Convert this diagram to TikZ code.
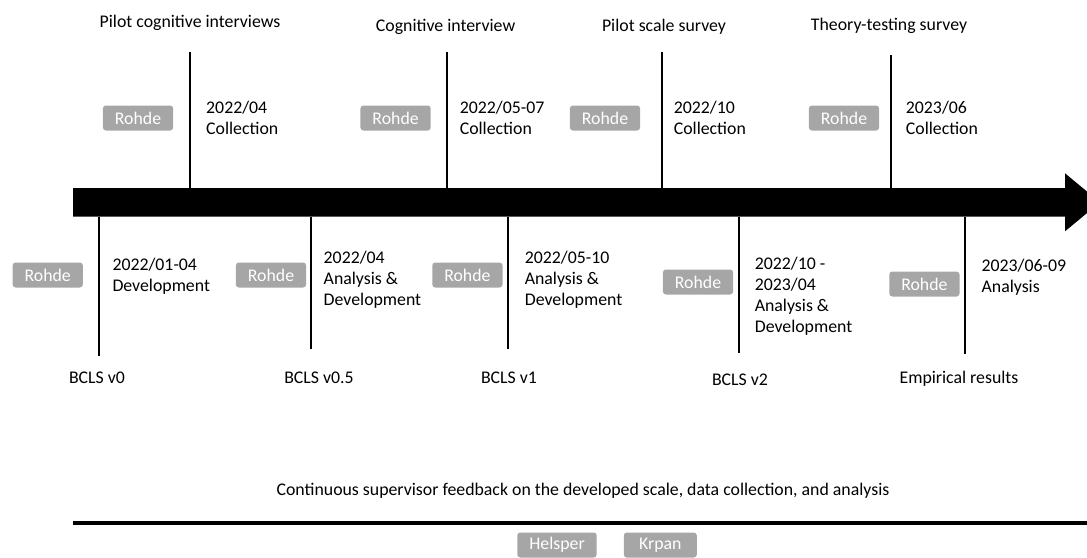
\documentclass[tikz,border=0pt]{standalone}
\usepackage{fontspec}
\setmainfont{Carlito}
\definecolor{tagGray}{HTML}{A6A6A6}
\newcommand{\txtstack}[1]{\begin{tabular}[t]{@{}l@{}}#1\end{tabular}}
\begin{document}
\begin{tikzpicture}[x=1pt,y=-1pt,
  every node/.style={inner sep=0pt, font=\fontsize{17.8}{21}\selectfont},
  tag/.style={fill=tagGray, rounded corners=3pt, text=white,
    minimum height=25pt, inner xsep=12pt},
  tick/.style={line width=2pt},
  date/.style={anchor=base west},
  milestone/.style={anchor=base}]
\useasboundingbox (0,0) rectangle (1087,557);
\clip (0,0) rectangle (1087,557);

% main timeline arrow
\fill[black] (73,188) -- (1065,188) -- (1065,173.3) -- (1100,202.3)
  -- (1065,231.3) -- (1065,216.5) -- (73,216.5) -- cycle;
\coordinate (barTop) at (0,188);
\coordinate (barBot) at (0,216.5);

% collection phases above the timeline
\node[milestone] (p1) at (190,27) {Pilot cognitive interviews};
\node[milestone] (p2) at (445.6,31) {Cognitive interview};
\node[milestone] (p3) at (664,31) {Pilot scale survey};
\node[milestone] (p4) at (889,30) {Theory-testing survey};

\coordinate (u1) at (190,52);
\coordinate (u2) at (446.5,52);
\coordinate (u3) at (662,52);
\coordinate (u4) at (890.5,55);
\foreach \c in {u1,u2,u3,u4} \draw[tick] (\c) -- (\c |- barTop);

\node[tag] (r1) at (138,118) {Rohde};
\node[tag] (r2) at (395.6,118) {Rohde};
\node[tag] (r3) at (605,118) {Rohde};
\node[tag] (r4) at (844,118) {Rohde};

\node[date] (d1) at (206,113.3) {\txtstack{2022/04\\Collection}};
\node[date] (d2) at (459.6,113.3) {\txtstack{2022/05-07\\Collection}};
\node[date] (d3) at (673.6,113.3) {\txtstack{2022/10\\Collection}};
\node[date] (d4) at (905.7,113.3) {\txtstack{2023/06\\Collection}};

% development phases below the timeline
\coordinate (l1) at (99,356);
\coordinate (l2) at (310.5,349);
\coordinate (l3) at (508,349);
\coordinate (l4) at (739,353);
\coordinate (l5) at (965,354);
\foreach \c in {l1,l2,l3,l4,l5} \draw[tick] (\c |- barBot) -- (\c);

\node[tag] (s1) at (47.7,275) {Rohde};
\node[tag] (s2) at (271,275) {Rohde};
\node[tag] (s3) at (467.4,275) {Rohde};
\node[tag] (s4) at (698,282) {Rohde};
\node[tag] (s5) at (924.4,284) {Rohde};

\node[date] (e1) at (112.3,270.7) {\txtstack{2022/01-04\\Development}};
\node[date] (e2) at (323.5,263.8) {\txtstack{2022/04\\Analysis \&\\Development}};
\node[date] (e3) at (524.6,263.3) {\txtstack{2022/05-10\\Analysis \&\\Development}};
\node[date] (e4) at (754.6,269.5) {\txtstack{2022/10 -\\2023/04\\Analysis \&\\Development}};
\node[date] (e5) at (981.4,271) {\txtstack{2023/06-09\\Analysis}};

\node[milestone] (m1) at (97,383.5) {BCLS v0};
\node[milestone] (m2) at (319,383.5) {BCLS v0.5};
\node[milestone] (m3) at (509,383.5) {BCLS v1};
\node[milestone] (m4) at (740,385.5) {BCLS v2};
\node[milestone] (m5) at (959,383.5) {Empirical results};

% supervision running alongside
\node[anchor=base] (fb) at (583,495)
  {Continuous supervisor feedback on the developed scale, data collection, and analysis};
\coordinate (fbL) at (73,522.7);
\coordinate (fbR) at (1087,522.7);
\draw[line width=4pt] (fbL) -- (fbR);
\node[tag] (h1) at (557,545) {Helsper};
\node[tag, minimum width=73pt] (h2) at (660.3,545) {Krpan};
\end{tikzpicture}
\end{document}
